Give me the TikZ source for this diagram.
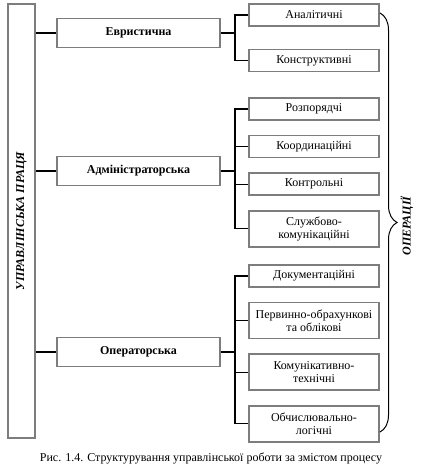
\documentclass[tikz,border=0pt]{standalone}
\usepackage{fontspec}
\setmainfont{Liberation Serif}
\usepackage{xcolor}
\usepackage{tikz}
\usetikzlibrary{positioning,decorations.pathreplacing}
\definecolor{boxgray}{RGB}{125,125,125}

\begin{document}
\begin{tikzpicture}[x=1pt, y=1pt,
    mainbox/.style={rectangle, draw=boxgray, line width=1.6pt, minimum width=27pt,
        minimum height=434pt, inner sep=0pt},
    lvlbox/.style={rectangle, draw=boxgray, line width=1.6pt, minimum width=163pt,
        minimum height=29pt, align=center, font=\fontsize{12}{13}\selectfont\bfseries},
    subbox/.style={rectangle, draw=boxgray, line width=1.6pt, minimum width=130pt,
        minimum height=22pt, inner sep=2pt, align=center, font=\fontsize{12}{13}\selectfont},
    twoline/.style={minimum height=36pt},
    conn/.style={black, line width=1.1pt},
    node distance=14pt
]
\useasboundingbox (0,0) rectangle (421,-473);

% left column
\node[mainbox] (work) at (21.5,-221) {};
\node[rotate=90, font=\fontsize{12}{13}\selectfont\bfseries\itshape] (worklabel) at (work.center) {УПРАВЛІНСЬКА ПРАЦЯ};

% kinds of work
\node[lvlbox] (evr) at (138.5,-33) {Евристична};
\node[lvlbox] (adm) at (138.5,-171) {Адміністраторська};
\node[lvlbox] (oper) at (138.5,-352) {Операторська};

\draw[conn] (work.east |- evr.west) -- (evr.west);
\draw[conn] (work.east |- adm.west) -- (adm.west);
\draw[conn] (work.east |- oper.west) -- (oper.west);

% operations
\node[subbox] (anal) at (314,-15) {Аналітичні};
\node[subbox, below=22pt of anal] (konst) {Конструктивні};

\node[subbox] (rozp) at (314,-109) {Розпорядчі};
\node[subbox, below=of rozp] (koord) {Координаційні};
\node[subbox, below=of koord] (kontr) {Контрольні};
\node[subbox, twoline, below=of kontr] (sluzh) {Службово-\\комунікаційні};

\node[subbox] (dok) at (314,-276) {Документаційні};
\node[subbox, twoline, below=of dok] (perv) {Первинно-обрахункові\\та облікові};
\node[subbox, twoline, below=of perv] (komun) {Комунікативно-\\технічні};
\node[subbox, twoline, below=of komun] (obch) {Обчислювально-\\логічні};

\coordinate (spine) at (235,0);

\draw[conn] (evr.east) -- (evr.east -| spine);
\draw[conn] (anal.west) -- (anal.west -| spine) |- (konst.west);

\draw[conn] (adm.east) -- (adm.east -| spine);
\draw[conn] (rozp.west) -- (rozp.west -| spine) |- (sluzh.west);
\draw[conn] (koord.west) -- (koord.west -| spine);
\draw[conn] (kontr.west) -- (kontr.west -| spine);

\draw[conn] (oper.east) -- (oper.east -| spine);
\draw[conn] (dok.west) -- (dok.west -| spine) |- (obch.west);
\draw[conn] (perv.west) -- (perv.west -| spine);
\draw[conn] (komun.west) -- (komun.west -| spine);

% brace
\coordinate (brtop) at (380,-13);
\coordinate (brbot) at (380,-432);
\draw[black, line width=1pt, decorate, decoration={brace, amplitude=17pt}] (brtop) -- (brbot);
\node[rotate=90, font=\fontsize{12}{13}\selectfont\bfseries\itshape] (ops) at (407,-226) {ОПЕРАЦІЇ};

% caption
\node[font=\fontsize{12}{13}\selectfont] (caption) at (211,-458) {Рис. 1.4. Структурування управлінської роботи за змістом процесу};
\end{tikzpicture}
\end{document}
